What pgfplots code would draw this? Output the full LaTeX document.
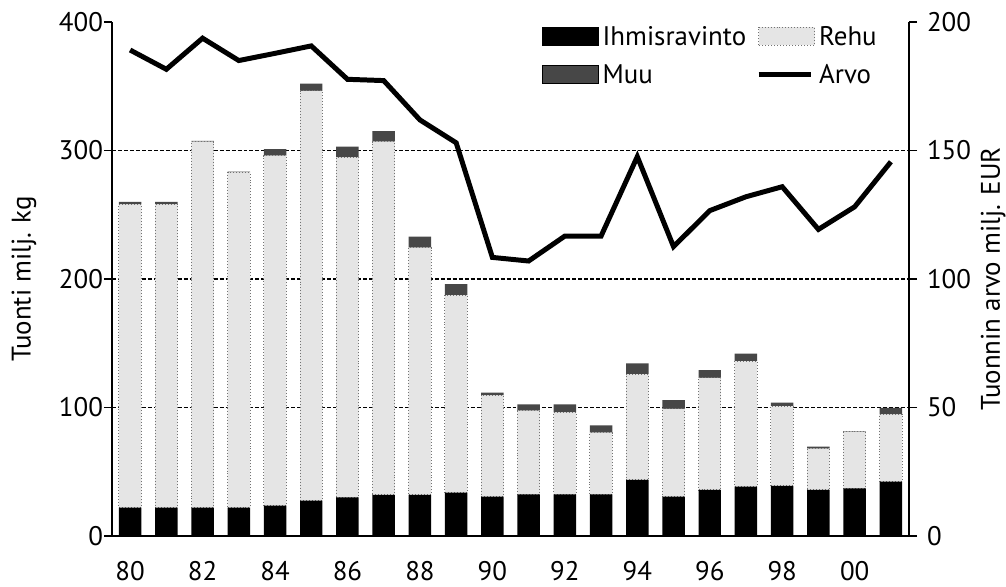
\documentclass[border=0pt]{standalone}
\usepackage{pgfplots}
\pgfplotsset{compat=1.18}
\usepackage{pgfplotstable}
\usepackage{fontspec}
\setmainfont{PT Sans}
\pgfplotstableread{
x ihm rehu muu arvo
0 22 236 2 189.1
1 22 236 2 181.6
2 22 285 0.5 193.7
3 22 261 0.5 185.0
4 23.6 272.4 5 187.8
5 27.5 319 5.5 190.7
6 30 264.7 8.3 177.7
7 32 275 8 177.2
8 32 192.4 8.6 161.9
9 33.7 153.8 8.5 153.0
10 30.6 78.9 2 108.4
11 32.4 65.1 5 107.0
12 32.4 63.9 6.2 116.7
13 32.4 48 5.6 116.7
14 43.6 82.4 8.4 147.6
15 30.6 68.4 6.8 112.6
16 35.8 87.2 6 126.6
17 38.4 97.6 6 132.0
18 39 62 2.7 135.9
19 35.8 32.2 1.5 119.3
20 37 44.2 0.5 128.1
21 42.3 52.4 5.1 145.6
}\data
\pgfplotsset{
  base/.style={
    scale only axis, width=398.5bp, height=257bp,
    xmin=-0.5, xmax=21.5,
    /pgf/number format/assume math mode=true,
    tick style={black, line width=0.8pt},
    major tick length=4bp,
  },
  arvoleg/.style={legend image code/.code={\draw[black, line width=2.5pt] (0bp,0.5bp) -- (26bp,0.5bp);}},
}
\begin{document}
\begin{tikzpicture}[font=\fontsize{13.5}{15.5}\selectfont]
\begin{axis}[base,
  ymin=0, ymax=400,
  axis x line*=bottom, axis y line*=left,
  axis line style={line width=1pt},
  ytick={0,100,200,300,400},
  tick align=outside,
  yticklabel style={xshift=3bp},
  extra y ticks={100,200,300},
  extra y tick labels={},
  extra y tick style={grid=major, major tick length=0pt},
  major grid style={black, line width=0.6pt, dash pattern=on 2pt off 1pt},
  xtick={0,2,...,20},
  xticklabels={80,82,84,86,88,90,92,94,96,98,00},
  x tick style={draw=none},
  minor xtick={-0.5,0.5,...,21.5},
  minor tick length=4bp,
  minor x tick style={black, line width=0.8pt},
  xticklabel style={yshift=-5bp},
  ylabel={Tuonti milj. kg},
  ylabel style={yshift=0.5bp},
  ybar stacked, bar width=0.62,
  legend columns=2,
  legend style={at={(0.965,1.0)}, anchor=north east, draw=none, fill=none, inner sep=0pt,
    /tikz/every even column/.append style={column sep=3bp}, row sep=4bp},
  legend cell align=left,
  area legend,
  legend image code/.code={\draw[#1] (0bp,-4bp) rectangle (28bp,5bp);},
]
\addplot[fill=black, draw=none] table[x=x, y=ihm] {\data};
\addlegendentry{Ihmisravinto}
\addplot[fill=black!10, draw=black!55, densely dotted, line width=0.5pt] table[x=x, y=rehu] {\data};
\addlegendentry{Rehu}
\addplot[fill=black!72, draw=none] table[x=x, y=muu] {\data};
\addlegendentry{Muu}
\addlegendimage{arvoleg}
\addlegendentry{Arvo}
\end{axis}
\begin{axis}[base,
  ymin=0, ymax=200,
  axis y line*=right, axis x line=none,
  axis line style={line width=1pt},
  ytick={0,50,100,150,200},
  tick align=outside,
  yticklabel style={xshift=1.5bp},
  ylabel={Tuonnin arvo milj. EUR},
  ylabel style={yshift=2bp},
]
\addplot[black, line width=2.5pt, mark=none, line join=miter] table[x=x, y=arvo] {\data};
\end{axis}
\pgfresetboundingbox
\path ([shift={(-56bp,-25.5bp)}]current axis.south west) rectangle ([shift={(48.5bp,11bp)}]current axis.north east);
\end{tikzpicture}
\end{document}
